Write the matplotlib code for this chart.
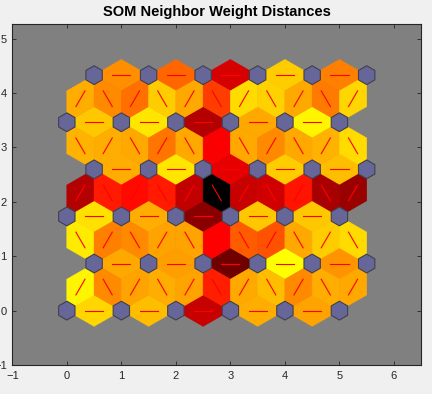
import numpy as np
import matplotlib.pyplot as plt
from matplotlib.patches import Polygon

plt.rcParams['font.family'] = ['Liberation Sans', 'DejaVu Sans']

# 6x6 hexagonal SOM
n_cols = 6
n_rows = 6

# closeness level of each neighbour pair
# (1 = smallest weight distance -> yellow, 0 = largest -> black)
horiz_levels = [
    [0.92, 0.87, 0.39, 0.84, 0.82],  # row 0
    [0.83, 0.81, 0.22, 1.00, 0.79],  # row 1
    [0.94, 0.84, 0.27, 0.89, 0.89],  # row 2
    [0.84, 0.95, 0.45, 0.90, 0.87],  # row 3
    [0.89, 0.95, 0.35, 0.83, 0.98],  # row 4
    [0.78, 0.70, 0.42, 0.90, 0.75],  # row 5
]
# edges between row r and r+1, left to right
diag_levels = [
    [0.98, 0.77, 0.82, 0.84, 0.82, 0.56, 0.83, 0.87, 0.77, 0.84, 0.83],
    [0.96, 0.75, 0.77, 0.82, 0.82, 0.50, 0.68, 0.66, 0.83, 0.90, 0.93],
    [0.35, 0.55, 0.52, 0.55, 0.38, 0.00, 0.39, 0.41, 0.54, 0.33, 0.30],
    [0.85, 0.84, 0.83, 0.73, 0.83, 0.49, 0.83, 0.77, 0.83, 0.85, 0.93],
    [0.84, 0.77, 0.72, 0.90, 0.83, 0.62, 0.93, 0.91, 0.83, 0.74, 0.92],
]

dy = np.sqrt(0.75)
z = np.sqrt(0.75) / 3


def pos(c, r):
    return np.array([c + 0.5 * (r % 2), r * dy])


def level_color(t):
    return (min(2 * t, 1.0), max(2 * t - 1, 0.0), 0.0)


# build the list of edges (pairs of neuron positions) with their levels
edges = []
for r in range(n_rows):
    for c in range(n_cols - 1):
        edges.append((pos(c, r), pos(c + 1, r), horiz_levels[r][c]))
for r in range(n_rows - 1):
    pairs = []
    for c1 in range(n_cols):
        for c2 in range(n_cols):
            a, b = pos(c1, r), pos(c2, r + 1)
            if abs(np.linalg.norm(b - a) - 1) < 1e-6:
                pairs.append((a, b))
    pairs.sort(key=lambda p: (p[0][0] + p[1][0]) / 2)
    for (a, b), t in zip(pairs, diag_levels[r]):
        edges.append((a, b, t))

fig = plt.figure(figsize=(4.32, 3.94), dpi=100, facecolor=(0.94, 0.94, 0.94))
ax = fig.add_axes([0.0285, 0.0736, 0.9465, 0.8644])
ax.set_facecolor((0.5, 0.5, 0.5))

for a, b, t in edges:
    u = (b - a) / np.linalg.norm(b - a)
    v = np.array([-u[1], u[0]])
    mid = (a + b) / 2
    verts = [mid - 0.5 * u, mid + z * v, mid + 0.5 * u, mid - z * v]
    col = level_color(t)
    ax.add_patch(Polygon(verts, closed=True, facecolor=col, edgecolor=col,
                         linewidth=0.4, zorder=1))
    p1 = (2 * a + b) / 3
    p2 = (a + 2 * b) / 3
    ax.plot([p1[0], p2[0]], [p1[1], p2[1]], color='red', linewidth=0.8, zorder=2)

shapex = np.array([-1, 0, 1, 1, 0, -1]) * 0.5 * 0.3
shapey = np.array([1, 2, 1, -1, -2, -1]) * z * 0.3
for r in range(n_rows):
    for c in range(n_cols):
        p = pos(c, r)
        ax.add_patch(Polygon(np.column_stack([shapex + p[0], shapey + p[1]]),
                             closed=True, facecolor=(0.4, 0.4, 0.6),
                             edgecolor=(0.25, 0.25, 0.3), linewidth=0.8, zorder=3))

ax.set_xlim(-1, (n_cols - 0.5) + 1)
ax.set_ylim(-1, (n_rows - 0.5) * dy + 0.5)
ax.set_xticks(range(-1, 7))
ax.set_yticks(range(-1, 6))
ax.tick_params(direction='in', length=3, width=0.6, top=True, right=True,
               labelsize=8, colors=(0.15, 0.15, 0.15), pad=4)
for s in ax.spines.values():
    s.set_color((0.15, 0.15, 0.15))
    s.set_linewidth(0.8)
ax.set_title('SOM Neighbor Weight Distances', fontsize=10.5, fontweight='bold', pad=6)

fig.savefig('out.png', dpi=100, facecolor=fig.get_facecolor())
